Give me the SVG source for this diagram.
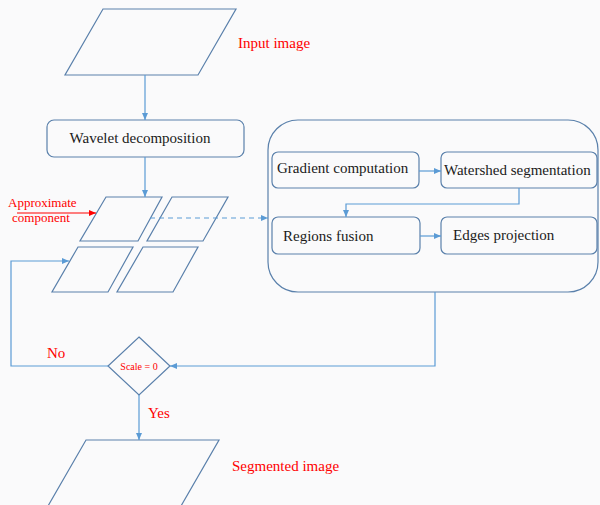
<svg xmlns="http://www.w3.org/2000/svg" width="600" height="505" viewBox="0 0 600 505">
<style>
.shape{fill:none;stroke:#5a80ab;stroke-width:1.2}
.box{fill:none;stroke:#5a80ab;stroke-width:1.2}
.conn{fill:none;stroke:#5b9bd5;stroke-width:1.2}
text{font-family:'Liberation Serif','DejaVu Serif',serif}
.txt{font-size:15px;fill:#1a1a1a}
.red{font-size:15px;fill:#ff0000}
</style>
<defs>
<marker id="ah" markerWidth="8" markerHeight="8" refX="7" refY="4" orient="auto" markerUnits="userSpaceOnUse">
<path d="M0,1 L7,4 L0,7 Z" fill="#5b9bd5"/>
</marker>
<marker id="ahr" markerWidth="8" markerHeight="8" refX="7" refY="4" orient="auto" markerUnits="userSpaceOnUse">
<path d="M0,1 L7,4 L0,7 Z" fill="#ff0000"/>
</marker>
</defs>
<rect width="600" height="505" fill="#fafafb"/>
<g id="input-image">
<polygon class="shape" points="103,9 236,9 198,75 65,75"/>
<text class="red" x="238" y="48">Input image</text>
</g>
<g id="wavelet">
<rect class="box" x="47" y="120" width="197" height="37" rx="7"/>
<text class="txt" x="140" y="143" text-anchor="middle">Wavelet decomposition</text>
</g>
<g id="subbands">
<polygon class="shape" points="106,197 162,197 138,241 80,241"/>
<polygon class="shape" points="172,197 228,197 203,241 147,241"/>
<polygon class="shape" points="78,247 133,247 108,292 52,292"/>
<polygon class="shape" points="143,247 198,247 173,292 117,292"/>
</g>
<g id="approx-label">
<text class="red" style="font-size:13px" x="8" y="207">Approximate</text>
<text class="red" style="font-size:13px" x="12" y="222">component</text>
<line x1="17" y1="213" x2="96" y2="213" stroke="#ff0000" stroke-width="1.2" marker-end="url(#ahr)"/>
</g>
<g id="process">
<rect class="box" x="268" y="120" width="330" height="172" rx="30"/>
</g>
<g id="gradient">
<rect class="box" x="272" y="152" width="147" height="36" rx="6"/>
<text class="txt" x="277" y="173">Gradient computation</text>
</g>
<g id="watershed">
<rect class="box" x="441" y="152" width="156" height="36" rx="6"/>
<text class="txt" x="444" y="175">Watershed segmentation</text>
</g>
<g id="regions">
<rect class="box" x="272" y="217" width="148" height="37" rx="6"/>
<text class="txt" x="283" y="241">Regions fusion</text>
</g>
<g id="edges">
<rect class="box" x="441" y="217" width="156" height="37" rx="6"/>
<text class="txt" x="453" y="240">Edges projection</text>
</g>
<g id="decision">
<polygon class="shape" points="139,337 170,366 139,395 108,366"/>
<text class="red" style="font-size:10px" x="139" y="369.5" text-anchor="middle">Scale = 0</text>
</g>
<g id="segmented-image">
<polygon class="shape" points="86,440 219,440 181,506 48,506"/>
<text class="red" x="232" y="471">Segmented image</text>
</g>
<g id="labels">
<text class="red" x="47" y="358">No</text>
<text class="red" x="148" y="418">Yes</text>
</g>
<g id="connectors">
<line class="conn" x1="145" y1="75" x2="145" y2="120" marker-end="url(#ah)"/>
<line class="conn" x1="145" y1="157" x2="145" y2="197" marker-end="url(#ah)"/>
<line class="conn" x1="150" y1="218" x2="268" y2="218" stroke-dasharray="5,4" marker-end="url(#ah)"/>
<line class="conn" x1="419" y1="171" x2="441" y2="171" marker-end="url(#ah)"/>
<polyline class="conn" points="519,188 519,204 346,204 346,217" marker-end="url(#ah)"/>
<line class="conn" x1="420" y1="236" x2="441" y2="236" marker-end="url(#ah)"/>
<polyline class="conn" points="435,292 435,366 170,366" marker-end="url(#ah)"/>
<polyline class="conn" points="108,366 11,366 11,261 69,261" marker-end="url(#ah)"/>
<line class="conn" x1="139" y1="395" x2="139" y2="440" marker-end="url(#ah)"/>
</g>
</svg>
